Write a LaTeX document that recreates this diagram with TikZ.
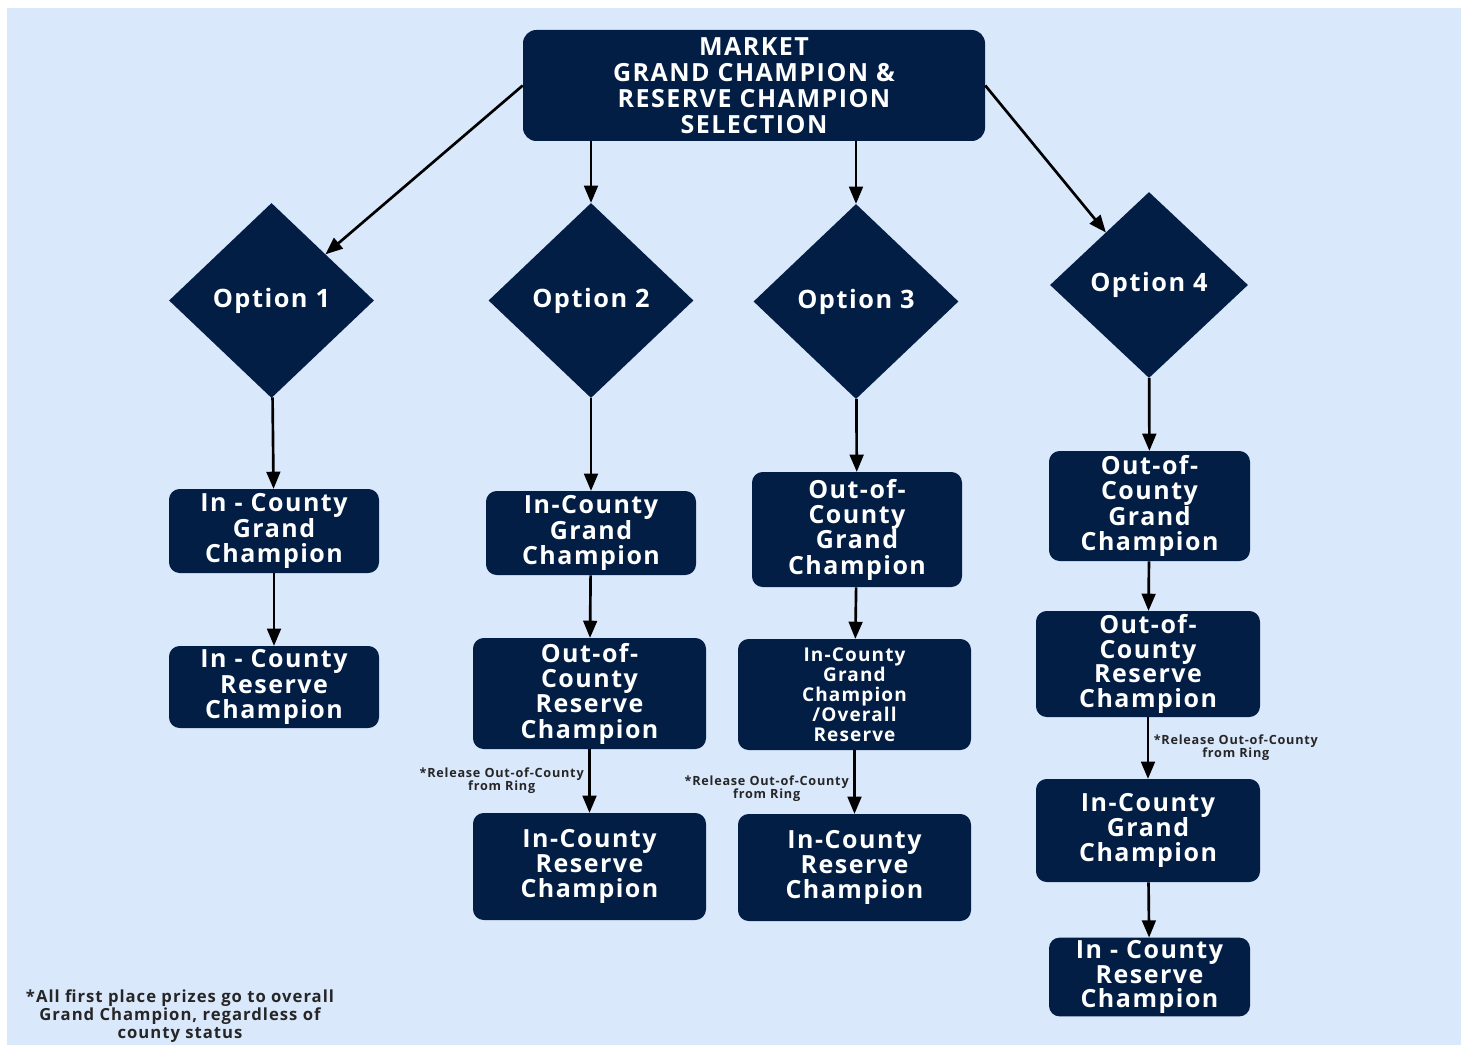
\documentclass[tikz,border=0pt]{standalone}
\usepackage{fontspec}
\setmainfont{Open Sans}[LetterSpace=6]
\usetikzlibrary {arrows}
\usetikzlibrary {shapes.geometric}
\definecolor{navy}{HTML}{021E44}
\definecolor{sky}{HTML}{DAE8FC}

\begin{document}
\begin{tikzpicture} [x=0.75pt, y=-0.75pt,
        headbox/.style={fill=navy, rectangle, rounded corners=10pt, text=white, inner sep=2pt,
            font=\bfseries\fontsize{18.75}{19.5}\selectfont},
        choice/.style={fill=navy, diamond, text=white, inner sep=0pt,
            font=\bfseries\fontsize{19}{20}\selectfont},
        stage/.style={fill=navy, rectangle, rounded corners=8pt, text=white, inner sep=2pt,
            font=\bfseries\fontsize{18.75}{19}\selectfont},
        note/.style={font=\bfseries\fontsize{9.5}{10}\selectfont, text=black!85},
        flow/.style={->, line width=2pt},
        >=triangle 45,
        align=center ]
    \useasboundingbox (0,0) rectangle (1468,1045);
    \fill[white] (0,0) rectangle (1468,1045);
    \fill[sky] (7,8) rectangle (1461,1045);

    \node[headbox, minimum width=346.5pt, minimum height=83.25pt] (sel) at (754,85.5)
        {MARKET\\GRAND CHAMPION \&\\RESERVE CHAMPION\\SELECTION};

    % the four options
    \node[choice, minimum width=153.75pt, minimum height=146.25pt] (o1) at (271.5,300.5) {Option 1};
    \node[choice, minimum width=153.75pt, minimum height=146.25pt] (o2) at (591,300.5) {Option 2};
    \node[choice, minimum width=153.75pt, minimum height=146.25pt] (o3) at (856,301.5) {Option 3};
    \node[choice, minimum width=148.5pt, minimum height=139.5pt] (o4) at (1149,285) {Option 4};
    \draw (sel.west) edge[flow] (o1);
    \draw (o2 |- sel.south) edge[flow] (o2);
    \draw (o3 |- sel.south) edge[flow] (o3);
    \draw (sel.east) edge[flow] (o4);

    % option 1
    \node[stage, minimum width=157.5pt, minimum height=63pt] (c11) at (274,531) {In - County\\Grand\\Champion};
    \node[stage, minimum width=157.5pt, minimum height=61.5pt] (c12) at (274,687) {In - County\\Reserve\\Champion};
    \draw (o1) edge[flow] (c11);
    \draw (c11) edge[flow] (c12);

    % option 2
    \node[stage, minimum width=157.5pt, minimum height=63pt] (c21) at (591,533) {In-County\\Grand\\Champion};
    \node[stage, minimum width=174.75pt, minimum height=83.25pt] (c22) at (589.5,693.5) {Out-of-\\County\\Reserve\\Champion};
    \node[stage, minimum width=174.75pt, minimum height=80.25pt] (c23) at (589.5,866.5) {In-County\\Reserve\\Champion};
    \draw (o2) edge[flow] (c21);
    \draw (c21) edge[flow] (c22);
    \draw (c22) edge[flow] node[note, left] {*Release Out-of-County\\from Ring} (c23);

    % option 3
    \node[stage, minimum width=157.5pt, minimum height=86.25pt] (c31) at (857,529.5) {Out-of-\\County\\Grand\\Champion};
    \node[stage, minimum width=174.75pt, minimum height=83.25pt, font=\bfseries\fontsize{14.25}{15}\selectfont] (c32) at (854.5,694.5)
        {In-County\\Grand\\Champion\\/Overall\\Reserve};
    \node[stage, minimum width=174.75pt, minimum height=80.25pt] (c33) at (854.5,867.5) {In-County\\Reserve\\Champion};
    \draw (o3) edge[flow] (c31);
    \draw (c31) edge[flow] (c32);
    \draw (c32) edge[flow] node[note, left, yshift=-5pt] {*Release Out-of-County\\from Ring} (c33);

    % option 4
    \node[stage, minimum width=150.75pt, minimum height=82.5pt, font=\bfseries\fontsize{18.75}{18.5}\selectfont] (c41) at (1149.5,506)
        {Out-of-\\County\\Grand\\Champion};
    \node[stage, minimum width=168pt, minimum height=79.5pt, font=\bfseries\fontsize{18.75}{18.5}\selectfont] (c42) at (1148,664)
        {Out-of-\\County\\Reserve\\Champion};
    \node[stage, minimum width=168pt, minimum height=77.25pt] (c43) at (1148,830.5) {In-County\\Grand\\Champion};
    \node[stage, minimum width=150.75pt, minimum height=58.5pt, font=\bfseries\fontsize{18.75}{18.5}\selectfont] (c44) at (1149.5,977)
        {In - County\\Reserve\\Champion};
    \draw (o4) edge[flow] (c41);
    \draw (c41) edge[flow] (c42);
    \draw (c42) edge[flow] node[note, right] {*Release Out-of-County\\from Ring} (c43);
    \draw (c43) edge[flow] (c44);

    \node[font=\bfseries\fontsize{12.5}{13.5}\selectfont, text=black!85] (foot) at (180,1016)
        {*All first place prizes go to overall\\Grand Champion, regardless of\\county status};
\end{tikzpicture}
\end{document}
